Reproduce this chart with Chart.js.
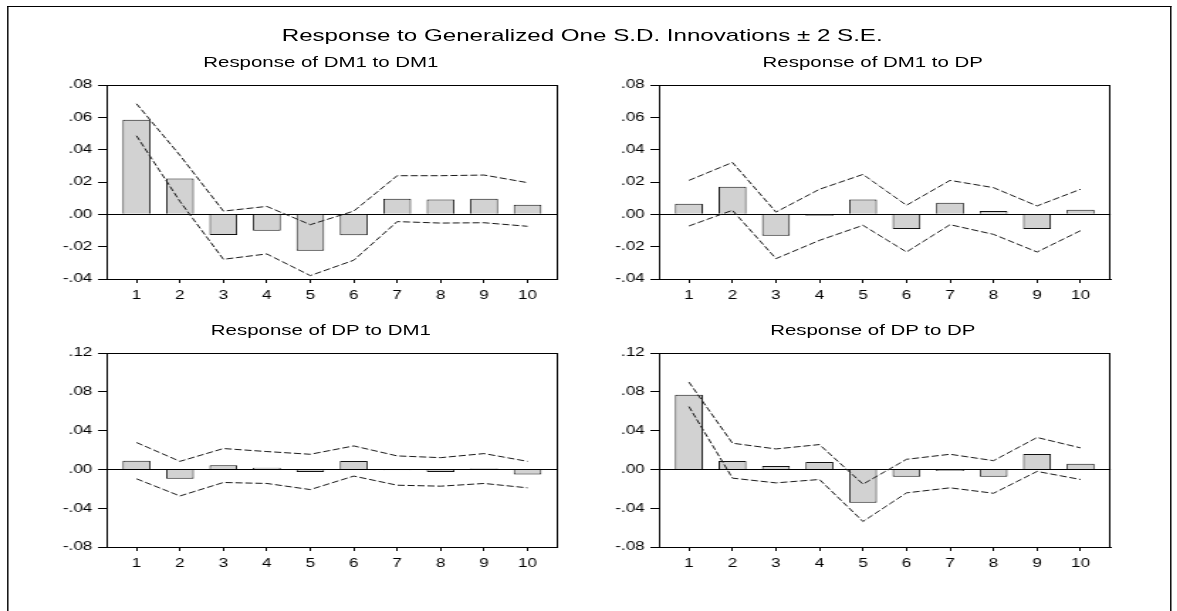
<!DOCTYPE html>
<html>
<head>
<meta charset="utf-8">
<script src="https://cdn.jsdelivr.net/npm/chart.js@4.4.1/dist/chart.umd.min.js"></script>
<style>
  html, body { margin: 0; padding: 0; background: #fff; }
  body { width: 1177px; height: 611px; overflow: hidden; position: relative; }
  #stage {
    position: absolute; left: 0; top: 0;
    width: 829px; height: 611px;
    transform: scaleX(1.42); transform-origin: 0 0;
    font-family: "Liberation Sans", Arial, Helvetica, sans-serif; color: #000;
  }
  #frame {
    position: absolute; left: 4.9px; top: 6px; width: 818px; height: 620px;
    border-left: 1px solid #000; border-top: 1px solid #000; border-right: 1px solid #000;
  }
  .title { position: absolute; text-align: center; white-space: nowrap; }
  #mainTitle { left: 0; width: 820px; top: 26px; font-size: 17px; line-height: 20px; }
  .sub { font-size: 14.4px; line-height: 18px; }
  canvas { position: absolute; }
</style>
</head>
<body>
<div id="stage">
  <div id="frame"></div>
  <div id="mainTitle" class="title">Response to Generalized One S.D. Innovations ± 2 S.E.</div>
</div>
<script>
// Forecast horizons
const steps = [1, 2, 3, 4, 5, 6, 7, 8, 9, 10];

// Response of DM1 to DM1
const dm1ToDm1    = [0.0585, 0.0221, -0.0128, -0.0101, -0.0225, -0.0130, 0.0097, 0.0091, 0.0097, 0.0060];
const dm1ToDm1Up  = [0.0684, 0.0365, 0.0020, 0.0049, -0.0064, 0.0020, 0.0239, 0.0239, 0.0243, 0.0196];
const dm1ToDm1Lo  = [0.0486, 0.0080, -0.0278, -0.0245, -0.0379, -0.0284, -0.0045, -0.0054, -0.0052, -0.0074];

// Response of DM1 to DP
const dm1ToDp     = [0.0066, 0.0171, -0.0132, -0.0008, 0.0091, -0.0091, 0.0072, 0.0021, -0.0091, 0.0029];
const dm1ToDpUp   = [0.0210, 0.0321, 0.0014, 0.0155, 0.0247, 0.0056, 0.0210, 0.0165, 0.0052, 0.0155];
const dm1ToDpLo   = [-0.0072, 0.0025, -0.0274, -0.0161, -0.0068, -0.0233, -0.0064, -0.0124, -0.0233, -0.0101];

// Response of DP to DM1
const dpToDm1     = [0.0090, -0.0097, 0.0042, 0.0017, -0.0028, 0.0087, -0.0010, -0.0028, 0.0010, -0.0052];
const dpToDm1Up   = [0.0277, 0.0083, 0.0215, 0.0184, 0.0156, 0.0242, 0.0139, 0.0121, 0.0163, 0.0083];
const dpToDm1Lo   = [-0.0097, -0.0274, -0.0135, -0.0145, -0.0208, -0.0069, -0.0163, -0.0173, -0.0145, -0.0190];

// Response of DP to DP
const dpToDp      = [0.0769, 0.0087, 0.0035, 0.0076, -0.0343, -0.0076, -0.0017, -0.0076, 0.0159, 0.0059];
const dpToDpUp    = [0.0900, 0.0270, 0.0211, 0.0256, -0.0152, 0.0104, 0.0156, 0.0090, 0.0329, 0.0222];
const dpToDpLo    = [0.0648, -0.0090, -0.0139, -0.0104, -0.0537, -0.0242, -0.0190, -0.0246, -0.0021, -0.0104];

// Value axes
const topAxis    = { min: -0.04, max: 0.08, step: 0.02 };
const bottomAxis = { min: -0.08, max: 0.12, step: 0.04 };

const FONT = '"Liberation Sans", Arial, Helvetica, sans-serif';
const Y_AXIS_W = 50, PAD_TOP = 12, X_AXIS_H = 30;

// Outline of the plotting area (top and right sides)
const boxPlugin = {
  id: 'box',
  afterDraw(chart) {
    const a = chart.chartArea, ctx = chart.ctx;
    ctx.save();
    ctx.strokeStyle = '#000';
    ctx.lineWidth = 1;
    ctx.strokeRect(Math.round(a.left) + 0.5, Math.round(a.top) + 0.5,
                   Math.round(a.right - a.left) - 1, Math.round(a.bottom - a.top));
    ctx.restore();
  }
};

const fmt = v => {
  const s = Number(v).toFixed(2);
  return s.replace(/^(-?)0\./, '$1.');
};

function makePanel(title, vals, up, lo, axis, box) {
  const stage = document.getElementById('stage');
  const canvas = document.createElement('canvas');
  const cw = Math.ceil(Y_AXIS_W + box.w + 12);
  const ch = PAD_TOP + box.h + X_AXIS_H;
  canvas.width = cw; canvas.height = ch;
  canvas.style.width = cw + 'px'; canvas.style.height = ch + 'px';
  canvas.style.left = (box.left - Y_AXIS_W) + 'px';
  canvas.style.top = (box.top - PAD_TOP) + 'px';
  stage.appendChild(canvas);

  const t = document.createElement('div');
  t.className = 'title sub';
  t.textContent = title;
  t.style.left = (box.left - 8) + 'px';
  t.style.width = box.w + 'px';
  t.style.top = (box.top - 32) + 'px';
  stage.appendChild(t);

  const pts = arr => arr.map((v, i) => ({ x: steps[i], y: v }));
  const band = arr => ({
    type: 'line', data: pts(arr), order: 0,
    borderColor: '#1a1a1a', borderWidth: 1, borderDash: [5, 2],
    pointRadius: 0, tension: 0, fill: false
  });

  new Chart(canvas, {
    type: 'bar',
    data: {
      datasets: [
        band(up), band(lo),
        {
          type: 'bar', data: pts(vals), order: 1,
          backgroundColor: '#d2d2d2', borderColor: '#111', borderWidth: 1,
          barPercentage: 0.64, categoryPercentage: 1.0
        }
      ]
    },
    options: {
      responsive: false, animation: false, devicePixelRatio: 1,
      layout: { padding: { top: PAD_TOP, right: cw - Y_AXIS_W - box.w, left: 0, bottom: 0 } },
      plugins: { legend: { display: false }, tooltip: { enabled: false }, title: { display: false } },
      scales: {
        x: {
          type: 'linear', offset: false, min: 1 - 0.69, max: 10 + 0.69,
          afterBuildTicks: s => { s.ticks = steps.map(v => ({ value: v })); },
          afterFit: s => { s.height = X_AXIS_H; },
          grid: { offset: false, drawOnChartArea: false, drawTicks: true, tickLength: 4, color: '#000' },
          border: { display: true, color: '#000', width: 1 },
          ticks: { color: '#000', font: { family: FONT, size: 12 }, padding: 5,
                   maxRotation: 0, autoSkip: false, callback: v => String(v) }
        },
        y: {
          min: axis.min, max: axis.max,
          afterFit: s => { s.width = Y_AXIS_W; },
          grid: {
            drawOnChartArea: true, drawTicks: true, tickLength: 6,
            color: c => (c.tick && Math.abs(c.tick.value) < 1e-9) ? '#000' : 'rgba(0,0,0,0)',
            tickColor: '#000', lineWidth: 1
          },
          border: { display: true, color: '#000', width: 1 },
          ticks: { stepSize: axis.step, color: '#000', font: { family: FONT, size: 12 },
                   padding: 4, callback: fmt }
        }
      }
    },
    plugins: [boxPlugin]
  });
}

const S = 1.42;
const leftCol  = { left: 106.7 / S, w: (557.7 - 106.7) / S };
const rightCol = { left: 658.3 / S, w: (1110 - 658.3) / S };
const topRow = { top: 85, h: 194 };
const botRow = { top: 353, h: 194 };

makePanel('Response of DM1 to DM1', dm1ToDm1, dm1ToDm1Up, dm1ToDm1Lo, topAxis, { ...leftCol, ...topRow });
makePanel('Response of DM1 to DP',  dm1ToDp,  dm1ToDpUp,  dm1ToDpLo,  topAxis, { ...rightCol, ...topRow });
makePanel('Response of DP to DM1',  dpToDm1,  dpToDm1Up,  dpToDm1Lo,  bottomAxis, { ...leftCol, ...botRow });
makePanel('Response of DP to DP',   dpToDp,   dpToDpUp,   dpToDpLo,   bottomAxis, { ...rightCol, ...botRow });
</script>
</body>
</html>
